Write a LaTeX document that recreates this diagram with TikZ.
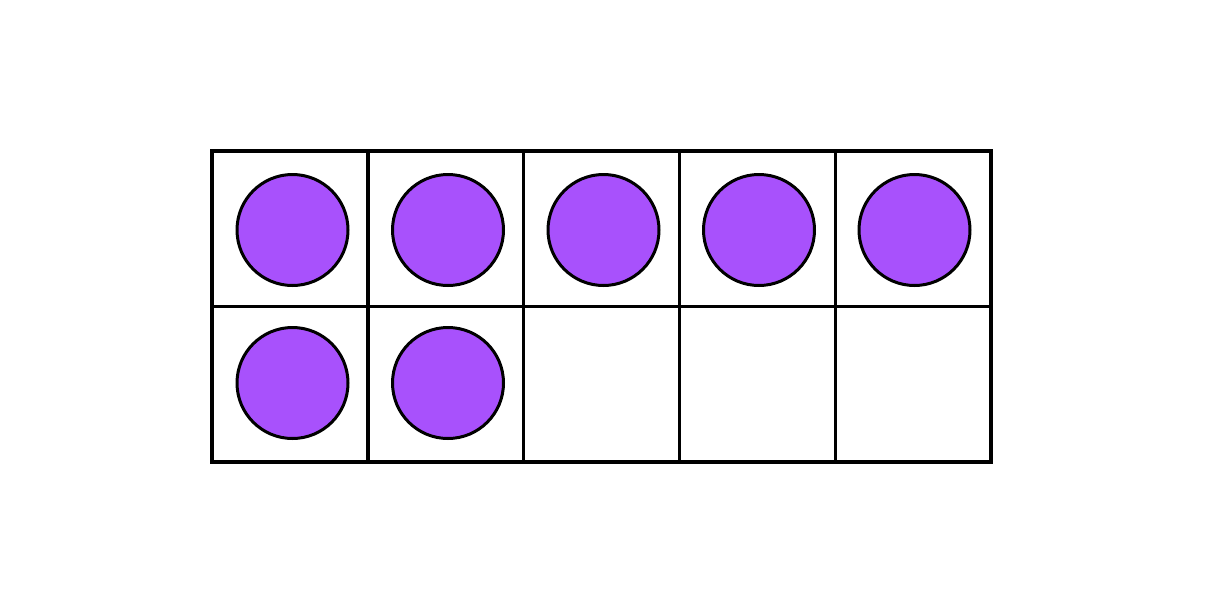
\documentclass[tikz,border=0pt]{standalone}
\begin{document}
\begin{tikzpicture}[x=1pt,y=-1pt,
  cell/.style={draw=black,line width=3.4pt,minimum width=155.8pt,minimum height=155.5pt,inner sep=0pt,outer sep=0pt},
  counter/.style={circle,draw=black,line width=3pt,fill=counterpurple,minimum size=111pt,inner sep=0pt}]
\definecolor{counterpurple}{HTML}{A851FC}
\useasboundingbox (0,0) rectangle (1227,614);
\fill[white] (0,0) rectangle (1227,614);
\foreach \c in {0,...,4}{
  \foreach \r in {0,1}{
    \node[cell] (cell-\r-\c) at ({212+77.9+155.8*\c},{151+77.75+155.5*\r}) {};
  }
}
\foreach \c in {0,...,4}{
  \node[counter] (dot-0-\c) at ({292.5+155.5*\c},230) {};
}
\node[counter] (dot-1-0) at (292.5,383) {};
\node[counter] (dot-1-1) at (448,383) {};
\end{tikzpicture}
\end{document}
